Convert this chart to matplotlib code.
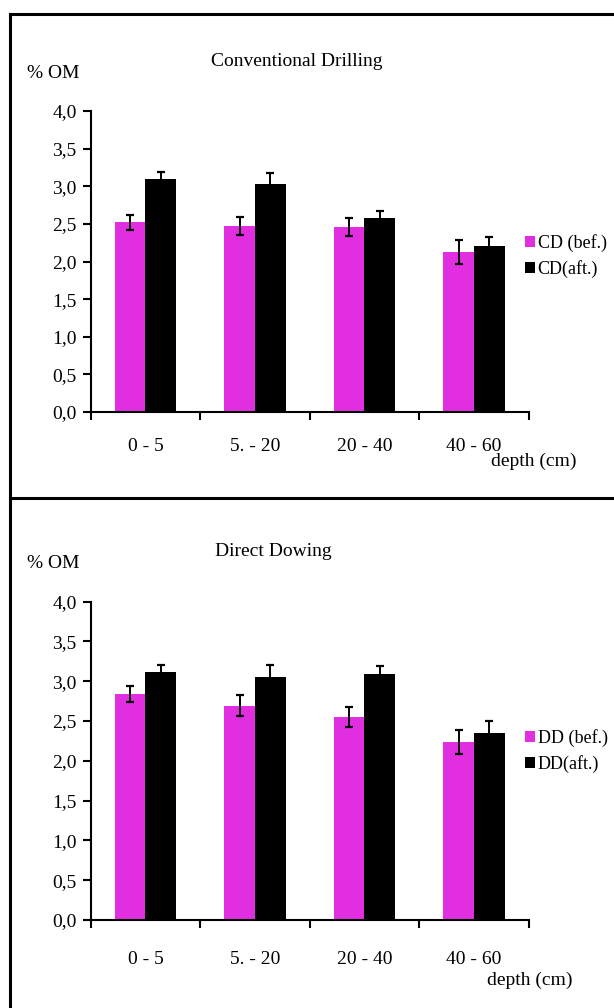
import matplotlib
matplotlib.use("Agg")
import matplotlib.pyplot as plt
from matplotlib.lines import Line2D
import numpy as np

plt.rcParams['font.family'] = ['Liberation Serif', 'DejaVu Serif']

depths = ["0 - 5", "5. - 20", "20 - 40", "40 - 60"]
yticks = [0.0, 0.5, 1.0, 1.5, 2.0, 2.5, 3.0, 3.5, 4.0]

cd_before = [2.52, 2.47, 2.46, 2.13]
cd_before_err = [0.10, 0.12, 0.12, 0.16]
cd_after = [3.10, 3.03, 2.58, 2.20]
cd_after_err = [0.09, 0.15, 0.09, 0.13]

dd_before = [2.84, 2.69, 2.55, 2.24]
dd_before_err = [0.10, 0.13, 0.12, 0.15]
dd_after = [3.11, 3.05, 3.09, 2.35]
dd_after_err = [0.09, 0.15, 0.10, 0.15]

MAGENTA = "#E12EE1"
W, H = 614, 1008
fig = plt.figure(figsize=(W / 100, H / 100), dpi=100)
fig.patch.set_facecolor("white")


def fx(px):
    return px / W


def fy(py):
    return 1 - py / H


def panel(top_px, bottom_px, title, title_xy, om_xy, before, before_err,
          after, after_err, labels, legend_cy, depth_xy, xlabel_pad):
    ax = fig.add_axes([fx(90.7), fy(bottom_px), fx(528.6 - 90.7),
                       (bottom_px - top_px) / H])
    x = np.arange(len(depths)) + 0.5
    bw = 0.28
    ek = dict(ecolor="black", elinewidth=1.4, capsize=2.9, capthick=1.6)
    b1 = ax.bar(x - bw / 2, before, bw, color=MAGENTA, yerr=before_err,
                error_kw=ek, label=labels[0], zorder=2)
    b2 = ax.bar(x + bw / 2, after, bw, color="black", yerr=after_err,
                error_kw=ek, label=labels[1], zorder=2)
    ax.set_xlim(0, 4)
    ax.set_ylim(0, 4)
    ax.set_yticks(yticks)
    ax.set_yticklabels([f"{v:.1f}".replace(".", ",") for v in yticks])
    ax.set_xticks(np.arange(0, 5))
    ax.set_xticklabels([])
    ax.set_xticks(x, minor=True)
    ax.set_xticklabels(depths, minor=True)
    ax.tick_params(axis="x", which="minor", length=0, pad=xlabel_pad,
                   labelsize=14)
    ax.tick_params(axis="x", which="major", length=6, width=1.5,
                   direction="out")
    ax.tick_params(axis="y", length=6, width=1.5, direction="out", pad=4,
                   labelsize=14)
    for s in ("top", "right"):
        ax.spines[s].set_visible(False)
    for s in ("left", "bottom"):
        ax.spines[s].set_linewidth(1.5)
    ax.spines["left"].set_bounds(0, 4)

    fig.text(fx(title_xy[0]), fy(title_xy[1]), title, fontsize=14,
             ha="left", va="baseline")
    fig.text(fx(om_xy[0]), fy(om_xy[1]), "% OM", fontsize=14,
             ha="left", va="baseline")
    fig.text(fx(depth_xy[0]), fy(depth_xy[1]), "depth (cm)", fontsize=14,
             ha="left", va="baseline")
    ax.legend(handles=[b1, b2], loc="center left",
              bbox_to_anchor=(fx(525), fy(legend_cy)),
              bbox_transform=fig.transFigure, frameon=False, fontsize=13,
              handlelength=0.55, handleheight=0.55, handletextpad=0.15,
              labelspacing=0.45, borderpad=0, borderaxespad=0)
    return ax


panel(111, 412, "Conventional Drilling", (211, 66), (27, 78),
      cd_before, cd_before_err, cd_after, cd_after_err,
      ["CD (bef.)", "CD(aft.)"], 256, (491, 466), 19)

panel(601.5, 920, "Direct Dowing", (215, 556), (27, 568),
      dd_before, dd_before_err, dd_after, dd_after_err,
      ["DD (bef.)", "DD(aft.)"], 751, (487, 985), 22)

# frame lines around and between the two charts
lw = 2.2
fig.add_artist(Line2D([fx(10), fx(10)], [fy(14), fy(1008)], color="black",
                      lw=lw, transform=fig.transFigure))
fig.add_artist(Line2D([fx(10), fx(614)], [fy(14), fy(14)], color="black",
                      lw=lw, transform=fig.transFigure))
fig.add_artist(Line2D([fx(10), fx(614)], [fy(498), fy(498)], color="black",
                      lw=lw, transform=fig.transFigure))

fig.savefig("out.png", dpi=100, facecolor="white")
